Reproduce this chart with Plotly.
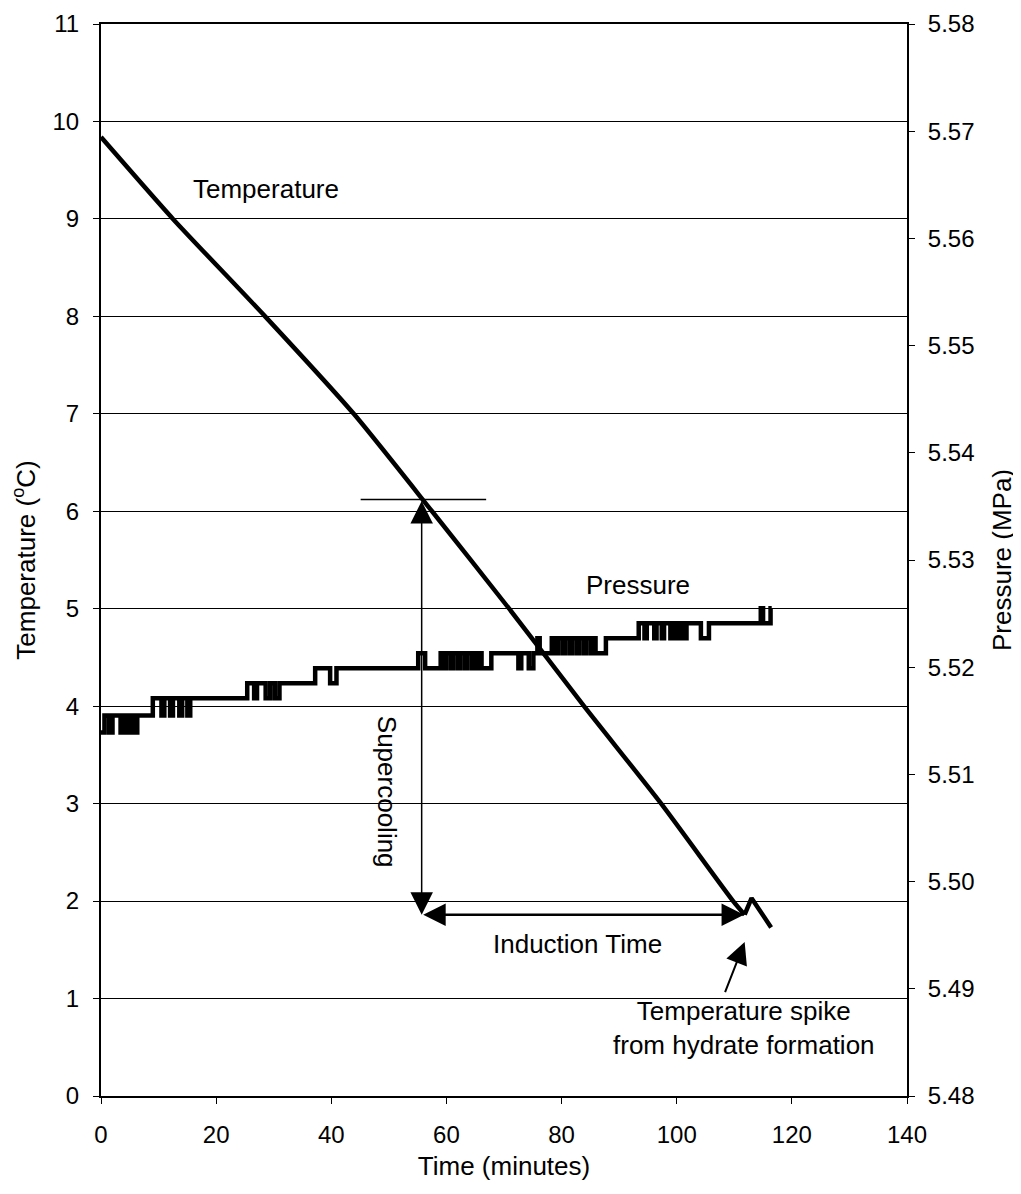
import plotly.graph_objects as go

# ---------------- data ----------------
temp_time = [0.0, 12.5, 28.5, 43.9, 57.5, 70.9, 83.9, 97.3, 109.8, 111.8, 113.0, 116.4]
temp_c = [9.84, 9.0, 8.0, 7.0, 6.0, 5.0, 4.0, 3.0, 2.0, 1.86, 2.03, 1.73]

pressure_time = [
    0.0, 0.6, 1.4, 2.0, 3.4, 3.9, 4.5, 5.1, 5.6, 6.3,
    9.0, 10.5, 11.0, 12.0, 12.5, 13.6, 14.1, 15.0, 15.5,
    25.4, 26.6, 27.1, 28.6, 29.4, 30.2, 31.0,
    37.2, 39.8, 40.9,
    55.1, 56.3, 59.0, 59.6, 60.0, 60.8, 61.2, 62.0, 62.4, 63.2, 63.6, 64.4, 64.8,
    65.4, 65.8, 66.1, 67.8, 72.5, 73.0, 74.3, 75.1, 75.8, 76.2,
    78.3, 79.0, 79.4, 80.2, 80.6, 81.4, 81.8, 82.6, 83.0, 83.8, 84.2, 85.0, 85.4,
    85.9, 87.7,
    93.4, 94.4, 94.8, 96.1, 96.5, 97.4, 97.8, 98.9, 99.3, 99.8, 100.2, 100.7, 101.1,
    101.3, 101.7, 104.2, 105.6,
    114.6, 115.0, 116.3, 116.5,
]
pressure_mpa = [
    5.5139, 5.5155, 5.5139, 5.5155, 5.5139, 5.5155, 5.5139, 5.5155, 5.5139, 5.5155,
    5.5171, 5.5155, 5.5171, 5.5155, 5.5171, 5.5155, 5.5171, 5.5155, 5.5171,
    5.5185, 5.5171, 5.5185, 5.5171, 5.5185, 5.5171, 5.5185,
    5.5199, 5.5185, 5.5199,
    5.5213, 5.5199, 5.5213, 5.5199, 5.5213, 5.5199, 5.5213, 5.5199, 5.5213, 5.5199, 5.5213, 5.5199, 5.5213,
    5.5199, 5.5213, 5.5199, 5.5213, 5.5199, 5.5213, 5.5199, 5.5213, 5.5227, 5.5213,
    5.5227, 5.5213, 5.5227, 5.5213, 5.5227, 5.5213, 5.5227, 5.5213, 5.5227, 5.5213, 5.5227, 5.5213, 5.5227,
    5.5213, 5.5227,
    5.5241, 5.5227, 5.5241, 5.5227, 5.5241, 5.5227, 5.5241, 5.5227, 5.5241, 5.5227, 5.5241, 5.5227, 5.5241,
    5.5227, 5.5241, 5.5227, 5.5241,
    5.5255, 5.5241, 5.5255, 5.5255,
]

x_ticks = [0, 20, 40, 60, 80, 100, 120, 140]
temp_ticks = list(range(0, 12))
pressure_ticks = [5.48, 5.49, 5.50, 5.51, 5.52, 5.53, 5.54, 5.55, 5.56, 5.57, 5.58]

# annotation anchor values
supercool_start_T = 6.12
nucleation_T = 1.86
nucleation_time = 55.7
spike_time = 111.7

FONT = "Liberation Sans, Arial, sans-serif"
TICK_FS = 24
TEXT_FS = 26

# split point: smooth cooling part, then the sharp hydrate spike
n_smooth = 10

fig = go.Figure()
fig.add_trace(go.Scatter(
    x=temp_time[:n_smooth], y=temp_c[:n_smooth], mode="lines",
    line=dict(color="black", width=4.5, shape="spline", smoothing=0.6),
    name="Temperature", yaxis="y"))
fig.add_trace(go.Scatter(
    x=temp_time[n_smooth - 1:], y=temp_c[n_smooth - 1:], mode="lines",
    line=dict(color="black", width=4.5), name="Temperature spike", yaxis="y"))
fig.add_trace(go.Scatter(
    x=pressure_time, y=pressure_mpa, mode="lines",
    line=dict(color="black", width=4.5, shape="hv"), name="Pressure", yaxis="y2"))

# horizontal marker line at supercooling start temperature
fig.add_shape(type="line", xref="x", yref="y", x0=45.1, x1=66.9,
              y0=supercool_start_T, y1=supercool_start_T,
              line=dict(color="black", width=1.5))

base_arrow = dict(xref="x", yref="y", axref="x", ayref="y", text="",
                  showarrow=True, arrowhead=2, arrowcolor="black")
# Supercooling (vertical double arrow)
fig.add_annotation(x=nucleation_time, y=nucleation_T, ax=nucleation_time, ay=supercool_start_T,
                   arrowside="end+start", arrowwidth=1.5, arrowsize=3.0,
                   startarrowhead=2, startarrowsize=3.0, **base_arrow)
# Induction time (horizontal double arrow)
fig.add_annotation(x=spike_time, y=nucleation_T, ax=nucleation_time, ay=nucleation_T,
                   arrowside="end+start", arrowwidth=2.5, arrowsize=1.8,
                   startarrowhead=2, startarrowsize=1.8, **base_arrow)
# Temperature spike pointer
fig.add_annotation(x=111.8, y=1.58, ax=108.3, ay=1.05,
                   arrowwidth=2, arrowsize=2.2, **base_arrow)

txt = dict(xref="x", yref="y", showarrow=False,
           font=dict(family=FONT, size=TEXT_FS, color="black"))
fig.add_annotation(x=28.7, y=9.31, text="Temperature", **txt)
fig.add_annotation(x=93.2, y=5.24, text="Pressure", **txt)
fig.add_annotation(x=49.7, y=3.12, text="Supercooling", textangle=90, **txt)
fig.add_annotation(x=82.7, y=1.56, text="Induction Time", **txt)
fig.add_annotation(x=111.6, y=0.70, text="Temperature spike<br>from hydrate formation", **txt)

tick_font = dict(family=FONT, size=TICK_FS, color="black")
title_font = dict(family=FONT, size=TEXT_FS, color="black")
# the page body has an 8px margin, so the figure is made 8px smaller and
# its left/top margins reduced accordingly
fig.update_layout(
    width=1013, height=1186,
    margin=dict(l=93, r=114, t=16, b=98, autoexpand=False),
    paper_bgcolor="white", plot_bgcolor="white",
    showlegend=False,
    font=dict(family=FONT, size=TICK_FS, color="black"),
    xaxis=dict(range=[0, 140], tickvals=x_ticks, showgrid=False, zeroline=False,
               showline=True, linecolor="black", linewidth=2, mirror=True,
               ticks="outside", ticklen=6, tickcolor="black", tickfont=tick_font,
               ticklabelstandoff=10, automargin=False,
               title=dict(text="Time (minutes)", font=title_font, standoff=10)),
    yaxis=dict(range=[0, 11], tickvals=temp_ticks, showgrid=True, gridcolor="black",
               gridwidth=1, zeroline=False, showline=True, linecolor="black", linewidth=2,
               ticks="outside", ticklen=6, tickcolor="black", tickfont=tick_font,
               ticklabelstandoff=9, automargin=False,
               title=dict(text="Temperature (<sup>o</sup>C)", font=title_font, standoff=12)),
    yaxis2=dict(range=[5.48, 5.58], tickvals=pressure_ticks, tickformat=".2f",
                overlaying="y", side="right", anchor="x", showgrid=False, zeroline=False,
                showline=True, linecolor="black", linewidth=2,
                ticks="outside", ticklen=6, tickcolor="black", tickfont=tick_font,
                ticklabelstandoff=8, automargin=False,
                title=dict(text="Pressure (MPa)", font=title_font, standoff=19)),
)

fig.write_html("out.html")
